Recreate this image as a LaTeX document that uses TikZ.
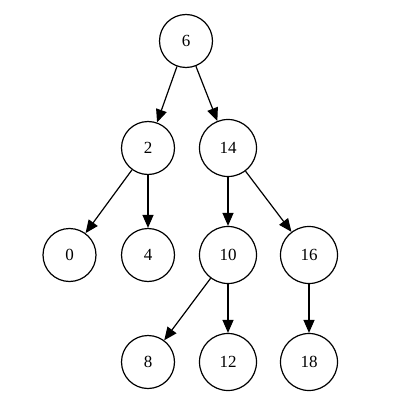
\documentclass[tikz,border=0pt]{standalone}
\usepackage{fontspec}
\setmainfont{Liberation Serif}
\usetikzlibrary{arrows.meta}
\begin{document}
\begin{tikzpicture}[x=1pt,y=-1pt,
  nd/.style={circle,draw,line width=1.2pt,inner sep=0pt,minimum size=53pt,font=\fontsize{17}{19}\selectfont},
  nw/.style={nd,minimum size=57pt},
  ed/.style={line width=1.2pt,-{Triangle[length=13pt,width=11pt]}}]
\useasboundingbox (0,0) rectangle (407,417);
\node[nd] (n6) at (186,41) {6};
\node[nd] (n2) at (148,148) {2};
\node[nw] (n14) at (228,148) {14};
\node[nd] (n0) at (69.5,255) {0};
\node[nd] (n4) at (148,255) {4};
\node[nw] (n10) at (228,255) {10};
\node[nw] (n16) at (309,255) {16};
\node[nd] (n8) at (148,362) {8};
\node[nw] (n12) at (228,362) {12};
\node[nw] (n18) at (309,362) {18};
\draw[ed] (n6) -- (n2);
\draw[ed] (n6) -- (n14);
\draw[ed] (n2) -- (n0);
\draw[ed] (n2) -- (n4);
\draw[ed] (n14) -- (n10);
\draw[ed] (n14) -- (n16);
\draw[ed] (n10) -- (n8);
\draw[ed] (n10) -- (n12);
\draw[ed] (n16) -- (n18);
\end{tikzpicture}
\end{document}
